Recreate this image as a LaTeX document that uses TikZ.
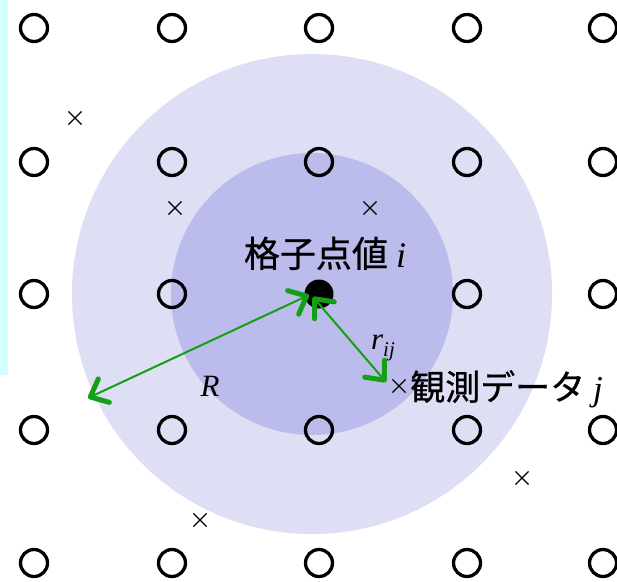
\documentclass[tikz,border=0pt]{standalone}
\usepackage{fontspec}
\newfontfamily\jp[FakeBold=0.6]{Noto Sans CJK JP}
\newfontfamily\tms{Liberation Serif}
\usetikzlibrary{arrows.meta,shapes.misc}
\definecolor{outerc}{RGB}{222,222,245}
\definecolor{innerc}{RGB}{188,188,236}
\definecolor{garr}{RGB}{20,160,20}
\definecolor{cyanstrip}{RGB}{212,255,255}
\tikzset{
  gridpt/.style={circle,draw=black,line width=3.3pt,minimum size=27pt,inner sep=0pt},
  xmark/.style={cross out,draw=black,line width=1.1pt,minimum size=12pt,inner sep=0pt},
  garrow/.style={draw=garr,line width=2pt,
    {Straight Barb[length=15pt,width=26pt,line width=5pt,round]}-{Straight Barb[length=15pt,width=26pt,line width=5pt,round]}},
  lbl/.style={inner sep=0pt,text=black}
}
\begin{document}
\begin{tikzpicture}[x=1pt,y=-1pt]
\useasboundingbox (0,0) rectangle (617,581);
\fill[cyanstrip] (0,0) rectangle (8,375);
\fill[outerc] (312,294) circle (240);
\fill[innerc] (312,294) circle (141);
\foreach \c/\x in {1/34,2/172,3/319,4/467,5/603}{
  \foreach \r/\y in {1/28,2/162,3/294,4/430,5/563}{
    \ifnum\c=3 \ifnum\r=3 \else
      \node[gridpt] (g\c\r) at (\x,\y) {};
    \fi\else
      \node[gridpt] (g\c\r) at (\x,\y) {};
    \fi
  }
}
\node[circle,fill=black,minimum size=29pt,inner sep=0pt] (ctr) at (319,294) {};
\node[xmark] (x1) at (75,118) {};
\node[xmark] (x2) at (175,208) {};
\node[xmark] (x3) at (370,208) {};
\node[xmark] (x4) at (522,478) {};
\node[xmark] (x5) at (200,520) {};
\node[xmark] (xj) at (399,386) {};
\node[lbl,anchor=base] (gi) at (325,267) {\fontsize{36}{40}\selectfont\jp 格子点値 {\tms\itshape i}};
\node[lbl,anchor=base west] (obs) at (410,400) {\fontsize{35}{40}\selectfont\jp 観測データ {\tms\itshape j}};
\node[lbl] (R) at (210,386) {\fontsize{31}{36}\selectfont\tms\itshape R};
\node[lbl] (rij) at (383,348) {\fontsize{31}{36}\selectfont\tms\itshape r\raisebox{-7pt}{\fontsize{21}{21}\selectfont ij}};
\coordinate (c1) at (309,295);
\coordinate (c2) at (313,297);
\coordinate (tR) at (88,398);
\coordinate (tr) at (386,382);
\draw[garrow] (c1) -- (tR);
\draw[garrow] (c2) -- (tr);
\end{tikzpicture}
\end{document}
